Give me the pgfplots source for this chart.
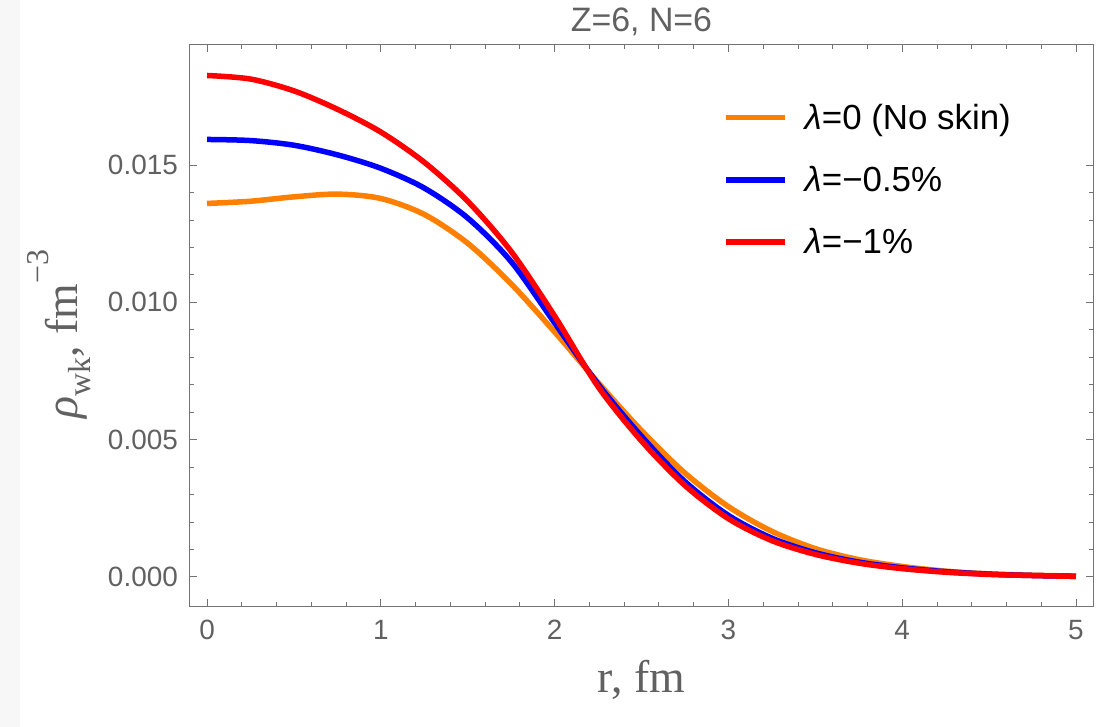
\documentclass[border=0pt]{standalone}
\usepackage{pgfplots}
\pgfplotsset{compat=1.18}
\usepackage{pgfplotstable}
\usepackage{fontspec}
\setmainfont{Liberation Sans}
\newfontfamily\seriff{Liberation Serif}
\definecolor{morange}{rgb}{1,0.5,0}
\definecolor{framegray}{gray}{0.45}
\definecolor{labgray}{gray}{0.38}

\pgfplotstableread{
x orange blue red
0.00 0.01360 0.01593 0.01826
0.25 0.01368 0.01589 0.01813
0.50 0.01384 0.01572 0.01770
0.75 0.01394 0.01537 0.01703
1.00 0.01378 0.01488 0.01620
1.25 0.01320 0.01416 0.01510
1.50 0.01215 0.01307 0.01368
1.75 0.01067 0.01148 0.01185
2.00 0.00892 0.00925 0.00950
2.25 0.00708 0.00702 0.00693
2.50 0.00533 0.00512 0.00495
2.75 0.00378 0.00347 0.00333
3.00 0.00256 0.00224 0.00212
3.25 0.00166 0.00141 0.00132
3.50 0.00103 0.00088 0.00082
3.75 0.00063 0.00054 0.00050
4.00 0.00038 0.00033 0.00030
4.25 0.00021 0.00019 0.00017
4.50 0.00011 0.00010 0.00009
4.75 0.00006 0.00005 0.00005
5.00 0.00003 0.00002 0.00002
}\data

\begin{document}
\begin{tikzpicture}
\fill[white] (-190bp,-121bp) rectangle (917bp,606bp);
\fill[black!3] (-190bp,-121bp) rectangle (-170bp,606bp);
\begin{axis}[
  at={(0,0)}, anchor=south west,
  scale only axis, width=903bp, height=561bp,
  xmin=-0.098, xmax=5.098, ymin=-0.00106, ymax=0.01937,
  xtick={0,1,2,3,4,5}, minor x tick num=4,
  ytick={0,0.005,0.010,0.015}, minor y tick num=4,
  tick align=inside,
  major tick length=7bp, minor tick length=4bp,
  axis line style={framegray, line width=1bp},
  every tick/.style={framegray, line width=0.8bp},
  scaled y ticks=false,
  /pgf/number format/assume math mode=true,
  yticklabel style={/pgf/number format/fixed, /pgf/number format/fixed zerofill, /pgf/number format/precision=3},
  tick label style={font=\fontsize{28}{30}\selectfont, text=labgray},
  xticklabel style={anchor=base, inner sep=0pt, yshift=-33bp},
  yticklabel style={anchor=east, inner sep=0pt, xshift=-12bp},
  title={Z=6, N=6},
  title style={at={(axis description cs:0.5,1.014)}, anchor=base, inner sep=0pt, font=\fontsize{34}{36}\selectfont, text=labgray},
  xlabel={r, fm},
  xlabel style={at={(axis description cs:0.5,-0.1533)}, anchor=base, inner sep=0pt, font=\seriff\fontsize{46}{50}\selectfont, text=labgray},
  ylabel={\textit{ρ}\raisebox{-0.3em}{\fontsize{32}{34}\selectfont wk}, fm\raisebox{0.62em}{\fontsize{32}{34}\selectfont −3}},
  ylabel style={at={(axis description cs:-0.1251,0.485)}, anchor=base, inner sep=0pt, font=\seriff\fontsize{46}{50}\selectfont, text=labgray},
  legend style={at={(axis description cs:0.5903,0.8948)}, anchor=north west, draw=none, fill=none, inner sep=0pt, row sep=35.5bp, font=\fontsize{35}{38}\selectfont, nodes={inner sep=0pt, text=black}},
  legend image code/.code={\draw[#1, line width=5.5bp] (0bp,0bp) -- (59bp,0bp); \path (76bp,0bp);},
  legend cell align=left,
]
\addplot[morange, line width=5.5bp, smooth] table[x=x, y=orange] {\data};
\addlegendentry{\textit{λ}=0 (No skin)}
\addplot[blue, line width=5.5bp, smooth] table[x=x, y=blue] {\data};
\addlegendentry{\textit{λ}=−0.5\%}
\addplot[red, line width=5.5bp, smooth] table[x=x, y=red] {\data};
\addlegendentry{\textit{λ}=−1\%}
\end{axis}
\end{tikzpicture}
\end{document}
